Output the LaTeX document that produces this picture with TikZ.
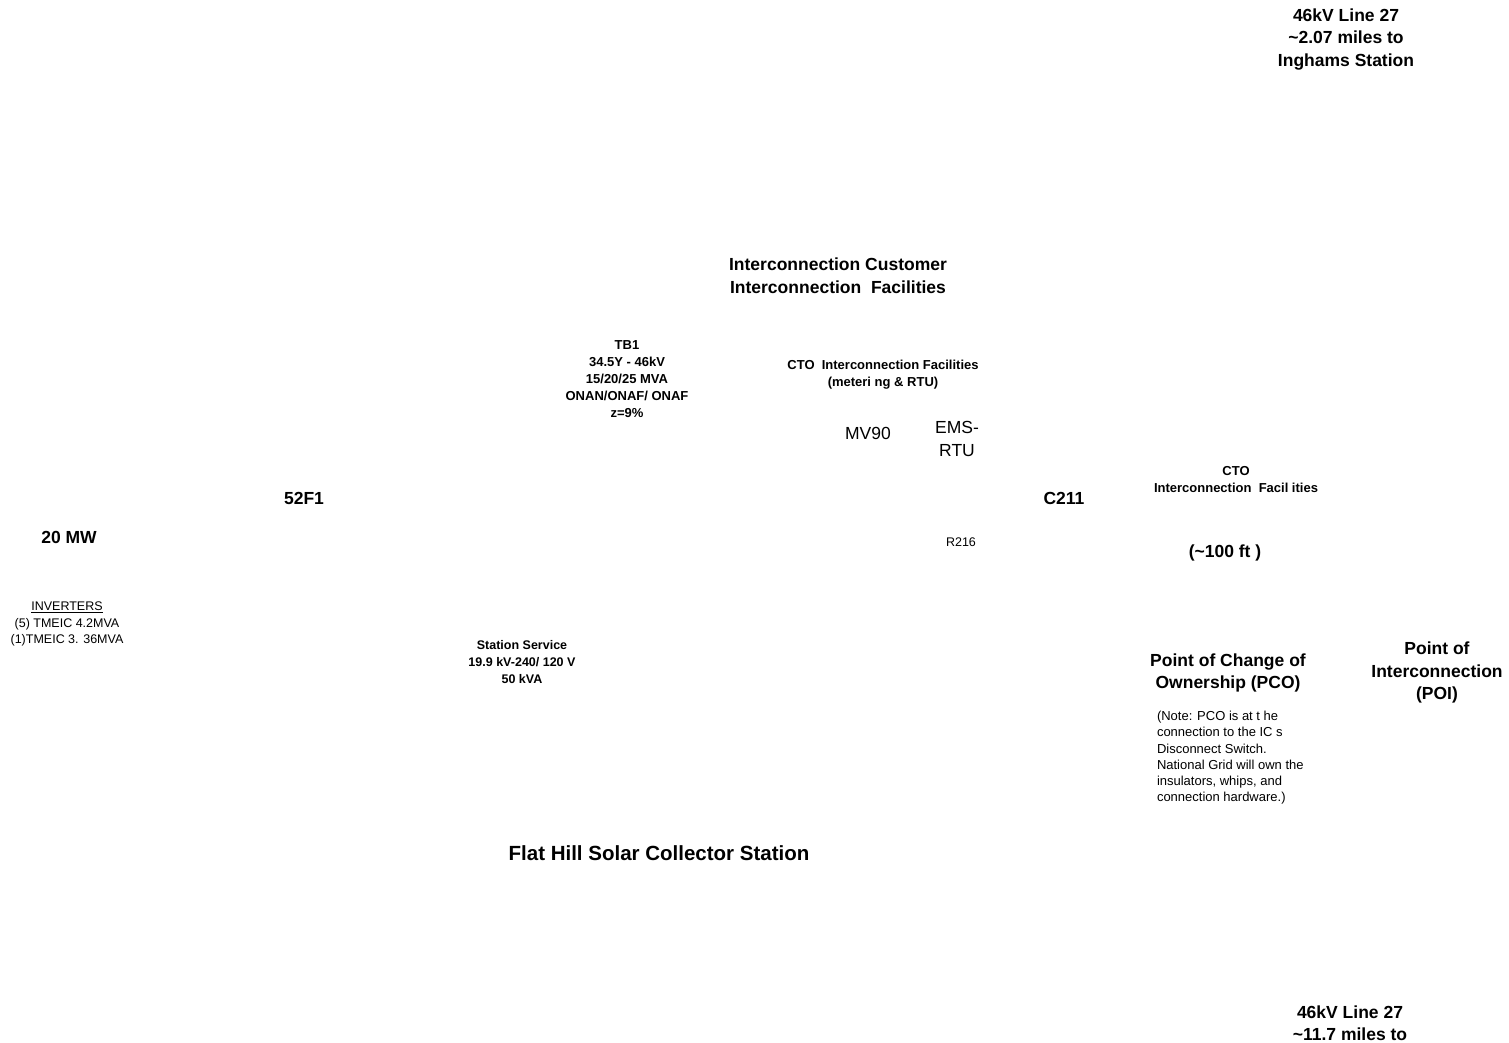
\documentclass[tikz,border=0pt]{standalone}
\usepackage{fontspec}
\setmainfont{Liberation Sans}
\begin{document}
\begin{tikzpicture}[x=1pt,y=-1pt,
  every node/.style={inner sep=0pt,outer sep=0pt,align=center},
  big/.style={font=\fontsize{17.5}{22.5}\selectfont\bfseries},
  bigr/.style={font=\fontsize{17.5}{23}\selectfont},
  small/.style={font=\fontsize{13}{16.8}\selectfont\bfseries},
  smallb/.style={font=\fontsize{12.5}{16.8}\selectfont\bfseries},
  smallr/.style={font=\fontsize{12.5}{16.2}\selectfont},
  noter/.style={font=\fontsize{13}{16.3}\selectfont}]
\useasboundingbox (0,0) rectangle (1509,1042);
\node[big] (line27a) at (1346,39.5) {46kV Line 27\\\textasciitilde2.07 miles to\\Inghams Station};
\node[big] (icif) at (838,275.5) {Interconnection Customer\\Interconnection\ \ Facilities};
\node[small] (tb1) at (627,379) {TB1\\34.5Y - 46kV\\15/20/25 MVA\\ONAN/ONAF/ ONAF\\z=9\%};
\node[small] (ctoif) at (883,374.5) {CTO\ \ Interconnection Facilities\\(meteri ng \& RTU)};
\node[bigr] (mv90) at (868,433) {MV90};
\node[bigr] (ems) at (957,438.5) {EMS-\\RTU};
\node[big] (b52f1) at (304,498) {52F1};
\node[big] (c211) at (1064,498) {C211};
\node[small] (cto2) at (1236,479.5) {CTO\\Interconnection\ \ Facil ities};
\node[big] (mw) at (69,537) {20 MW};
\node[smallr] (r216) at (961,542) {R216};
\node[big] (ft) at (1225,553) {(\textasciitilde100 ft )};
\node[smallr] (inv) at (67,624) {\underline{INVERTERS}\\(5) TMEIC 4.2MVA\\(1)TMEIC 3. 36MVA};
\node[smallb] (ss) at (522,662) {Station Service\\19.9 kV-240/ 120 V\\50 kVA};
\node[big] (pco) at (1228,673) {Point of Change of\\Ownership (PCO)};
\node[noter,align=left,anchor=north west] (note) at (1157,711) {(Note: PCO is at t he\\connection to the IC s\\Disconnect Switch.\\National Grid will own the\\insulators, whips, and\\connection hardware.)};
\node[big] (poi) at (1437,672.5) {Point of\\Interconnection\\(POI)};
\node[font=\fontsize{20.5}{24}\selectfont\bfseries] (flat) at (659,853) {Flat Hill Solar Collector Station};
\node[big] (line27b) at (1350,1023) {46kV Line 27\\\textasciitilde11.7 miles to};
\end{tikzpicture}
\end{document}
